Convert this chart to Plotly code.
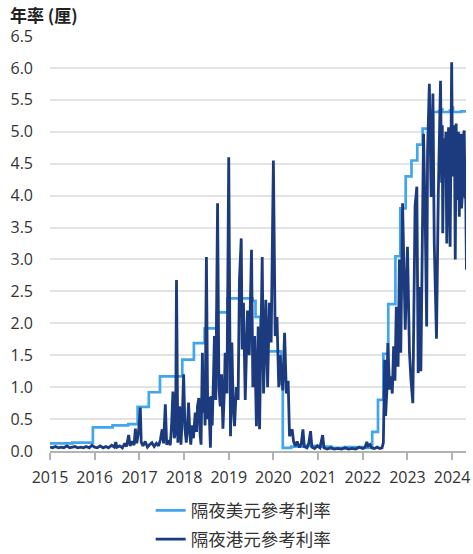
import plotly.graph_objects as go
import pandas as pd

# ---- data (decimal-year dates, % per annum) ----
usd_t = [2015.00, 2015.50, 2015.96, 2016.40, 2016.75, 2016.96, 2017.21, 2017.46, 2017.96,
         2018.22, 2018.46, 2018.73, 2018.97, 2019.53, 2019.60, 2019.71, 2019.83, 2020.17,
         2020.21, 2020.40, 2020.70, 2021.00, 2021.30, 2021.60, 2022.00, 2022.21, 2022.34,
         2022.46, 2022.57, 2022.73, 2022.84, 2022.96, 2023.09, 2023.22, 2023.34, 2023.57,
         2023.70, 2023.75, 2023.78, 2023.95, 2024.00, 2024.02, 2024.20, 2024.32]
usd_v = [0.12, 0.13, 0.37, 0.40, 0.42, 0.69, 0.92, 1.17, 1.43,
         1.69, 1.92, 2.17, 2.39, 2.35, 2.10, 1.85, 1.56, 1.05,
         0.05, 0.07, 0.08, 0.07, 0.05, 0.06, 0.05, 0.30, 0.80,
         1.52, 2.30, 3.05, 3.80, 4.30, 4.55, 4.80, 5.05, 5.31,
         5.32, 5.35, 5.31, 5.33, 5.38, 5.31, 5.32, 5.31]

hkd_t = [2015.00, 2015.06, 2015.12, 2015.19, 2015.25, 2015.31, 2015.38, 2015.44, 2015.50,
         2015.56, 2015.62, 2015.69, 2015.75, 2015.81, 2015.88, 2015.94, 2016.00, 2016.06,
         2016.12, 2016.19, 2016.25, 2016.31, 2016.38, 2016.44, 2016.47, 2016.50, 2016.56,
         2016.62, 2016.67, 2016.71, 2016.76, 2016.79, 2016.84, 2016.88, 2016.91, 2016.94,
         2016.98, 2017.02, 2017.04, 2017.08, 2017.13, 2017.18, 2017.23, 2017.28, 2017.33,
         2017.38, 2017.43, 2017.47, 2017.51, 2017.54, 2017.58, 2017.61, 2017.65, 2017.69,
         2017.72, 2017.75, 2017.78, 2017.81, 2017.83, 2017.86, 2017.90, 2017.93, 2017.96,
         2017.99, 2018.02, 2018.05, 2018.08, 2018.10, 2018.13, 2018.15, 2018.18, 2018.21,
         2018.25, 2018.28, 2018.30, 2018.33, 2018.36, 2018.38, 2018.41, 2018.43, 2018.45,
         2018.47, 2018.50, 2018.53, 2018.55, 2018.59, 2018.61, 2018.63, 2018.66, 2018.68,
         2018.71, 2018.75, 2018.78, 2018.81, 2018.84, 2018.87, 2018.90, 2018.92, 2018.96,
         2019.00, 2019.04, 2019.07, 2019.10, 2019.13, 2019.17, 2019.21, 2019.24, 2019.28,
         2019.30, 2019.33, 2019.37, 2019.42, 2019.46, 2019.51, 2019.54, 2019.58, 2019.62,
         2019.66, 2019.69, 2019.75, 2019.78, 2019.83, 2019.87, 2019.91, 2019.95, 2020.00,
         2020.04, 2020.08, 2020.12, 2020.15, 2020.21, 2020.25, 2020.29, 2020.33, 2020.36,
         2020.39, 2020.42, 2020.45, 2020.49, 2020.53, 2020.58, 2020.62, 2020.66, 2020.69,
         2020.75, 2020.79, 2020.83, 2020.86, 2020.92, 2020.98, 2021.04, 2021.10, 2021.13,
         2021.20, 2021.28, 2021.36, 2021.44, 2021.52, 2021.60, 2021.68, 2021.76, 2021.84,
         2021.92, 2022.00, 2022.05, 2022.09, 2022.12, 2022.16, 2022.20, 2022.26, 2022.32,
         2022.38, 2022.43, 2022.46, 2022.49, 2022.51, 2022.54, 2022.56, 2022.60, 2022.63,
         2022.66, 2022.69, 2022.72, 2022.75, 2022.79, 2022.82, 2022.85, 2022.89, 2022.92,
         2022.95, 2023.00, 2023.045, 2023.08, 2023.12, 2023.17, 2023.21, 2023.24, 2023.27,
         2023.30, 2023.33, 2023.36, 2023.40, 2023.43, 2023.45, 2023.49, 2023.53, 2023.57,
         2023.60, 2023.65, 2023.69, 2023.74, 2023.765, 2023.78, 2023.79, 2023.815, 2023.84,
         2023.86, 2023.88, 2023.90, 2023.92, 2023.94, 2023.955, 2023.975, 2023.99, 2024.01,
         2024.03, 2024.05, 2024.07, 2024.09, 2024.105, 2024.12, 2024.14, 2024.16, 2024.18,
         2024.195, 2024.21, 2024.23, 2024.25, 2024.27, 2024.29, 2024.305, 2024.32]
hkd_v = [0.06, 0.05, 0.07, 0.05, 0.06, 0.05, 0.08, 0.05, 0.06,
         0.07, 0.05, 0.06, 0.05, 0.07, 0.05, 0.09, 0.06, 0.05,
         0.08, 0.05, 0.07, 0.05, 0.09, 0.06, 0.14, 0.06, 0.08,
         0.05, 0.12, 0.07, 0.25, 0.08, 0.15, 0.09, 0.35, 0.12,
         0.30, 0.68, 0.14, 0.08, 0.15, 0.06, 0.10, 0.13, 0.07,
         0.12, 0.08, 0.18, 0.34, 0.12, 0.73, 0.10, 0.17, 0.09,
         0.40, 0.93, 0.20, 0.30, 2.68, 0.13, 0.70, 0.10, 0.54,
         1.20, 0.35, 0.13, 0.45, 0.76, 0.25, 0.10, 0.40, 0.20,
         0.60, 0.30, 0.70, 0.83, 0.25, 0.10, 1.54, 0.60, 1.00,
         0.40, 3.04, 0.50, 0.85, 0.05, 0.86, 0.40, 1.20, 1.80,
         0.80, 3.88, 1.00, 0.70, 1.20, 0.35, 0.90, 1.54, 0.90,
         4.60, 0.23, 1.70, 0.70, 0.39, 1.00, 0.80, 2.68, 3.33,
         1.59, 2.32, 0.80, 2.20, 1.50, 3.15, 1.00, 1.80, 0.39,
         1.95, 0.34, 3.04, 0.90, 2.37, 1.00, 2.32, 1.70, 4.55,
         1.80, 2.10, 1.00, 1.50, 0.95, 1.85, 0.90, 1.10, 0.23,
         0.30, 0.34, 0.15, 0.08, 0.15, 0.06, 0.10, 0.34, 0.07,
         0.05, 0.12, 0.31, 0.06, 0.04, 0.08, 0.05, 0.25, 0.05,
         0.03, 0.05, 0.03, 0.04, 0.03, 0.05, 0.03, 0.04, 0.03,
         0.06, 0.04, 0.06, 0.14, 0.08, 0.10, 0.05, 0.04, 0.06,
         0.04, 0.05, 0.13, 1.43, 0.55, 0.96, 1.69, 0.96, 1.17,
         0.90, 1.64, 1.10, 2.26, 1.32, 3.00, 1.54, 3.88, 2.89,
         1.90, 3.20, 1.54, 1.10, 0.75, 3.83, 4.14, 1.22, 2.57,
         1.25, 3.77, 4.97, 3.51, 1.95, 4.70, 5.75, 3.98, 5.60,
         3.25, 1.76, 4.00, 5.80, 4.20, 5.10, 3.41, 4.90, 4.45,
         5.00, 3.25, 4.60, 5.07, 4.20, 3.20, 4.80, 6.09, 4.30,
         4.71, 5.10, 3.00, 5.13, 4.40, 3.93, 5.00, 3.67, 4.60,
         4.97, 3.80, 4.03, 4.90, 5.02, 3.98, 3.95, 2.84]

series_names = ["隔夜美元參考利率", "隔夜港元參考利率"]
series_colors = ["#41A6EE", "#1C3B7E"]
y_tick_vals = [0.0, 0.5, 1.0, 1.5, 2.0, 2.5, 3.0, 3.5, 4.0, 4.5, 5.0, 5.5, 6.0, 6.5]
x_tick_years = [2015, 2016, 2017, 2018, 2019, 2020, 2021, 2022, 2023, 2024]
y_title = "年率 (厘)"


def to_date(t):
    y = int(t)
    start = pd.Timestamp(year=y, month=1, day=1)
    end = pd.Timestamp(year=y + 1, month=1, day=1)
    return start + (end - start) * (t - y)


usd_x = [to_date(t) for t in usd_t]
hkd_x = [to_date(t) for t in hkd_t]

fig = go.Figure()
fig.add_trace(go.Scatter(x=usd_x, y=usd_v, mode="lines", name=series_names[0],
                         line=dict(color=series_colors[0], width=2.7, shape="hv"),
                         legendgroup="a"))
fig.add_trace(go.Scatter(x=hkd_x, y=hkd_v, mode="lines", name=series_names[1],
                         line=dict(color=series_colors[1], width=2.8),
                         legendgroup="b"))

fig.update_layout(
    width=473, height=554,
    margin=dict(l=49.5, r=7, t=35.5, b=102.5, autoexpand=False),
    plot_bgcolor="white", paper_bgcolor="white",
    font=dict(family="Open Sans, Noto Sans CJK TC, sans-serif", size=16, color="#333333"),
    hovermode=False,
    showlegend=True,
    legend=dict(orientation="v", x=0.242, y=-0.1, xanchor="left", yanchor="top",
                font=dict(size=17.5, color="#333333"), tracegroupgap=3,
                bgcolor="rgba(0,0,0,0)"),
)
fig.update_yaxes(range=[0, 6.5], tickvals=y_tick_vals,
                 ticktext=[f"{v:.1f}" for v in y_tick_vals],
                 showgrid=True, gridcolor="#e3e3e3", gridwidth=1.5,
                 zeroline=False, showline=False, ticks="", ticklabelstandoff=16,
                 automargin=False, fixedrange=True)
fig.update_xaxes(type="date",
                 range=[to_date(2015.0), to_date(2024.31)],
                 tickvals=[to_date(float(y)) for y in x_tick_years],
                 ticktext=[str(y) for y in x_tick_years],
                 showgrid=False, zeroline=False,
                 showline=True, linecolor="#b3b3b3", linewidth=2,
                 ticks="outside", tickcolor="#b3b3b3", ticklen=7, tickwidth=1.5,
                 ticklabelstandoff=4, automargin=False, fixedrange=True)
fig.add_annotation(text=y_title, xref="paper", yref="paper",
                   x=-0.0996, y=1.0517, xanchor="left", yanchor="middle",
                   showarrow=False, borderpad=0,
                   font=dict(size=17, color="#222222", family="Noto Sans CJK TC, sans-serif",
                             weight="bold"))

fig.write_html("out.html", config={"displayModeBar": False},
               post_script="document.body.style.margin='0';document.body.style.overflow='hidden';")
